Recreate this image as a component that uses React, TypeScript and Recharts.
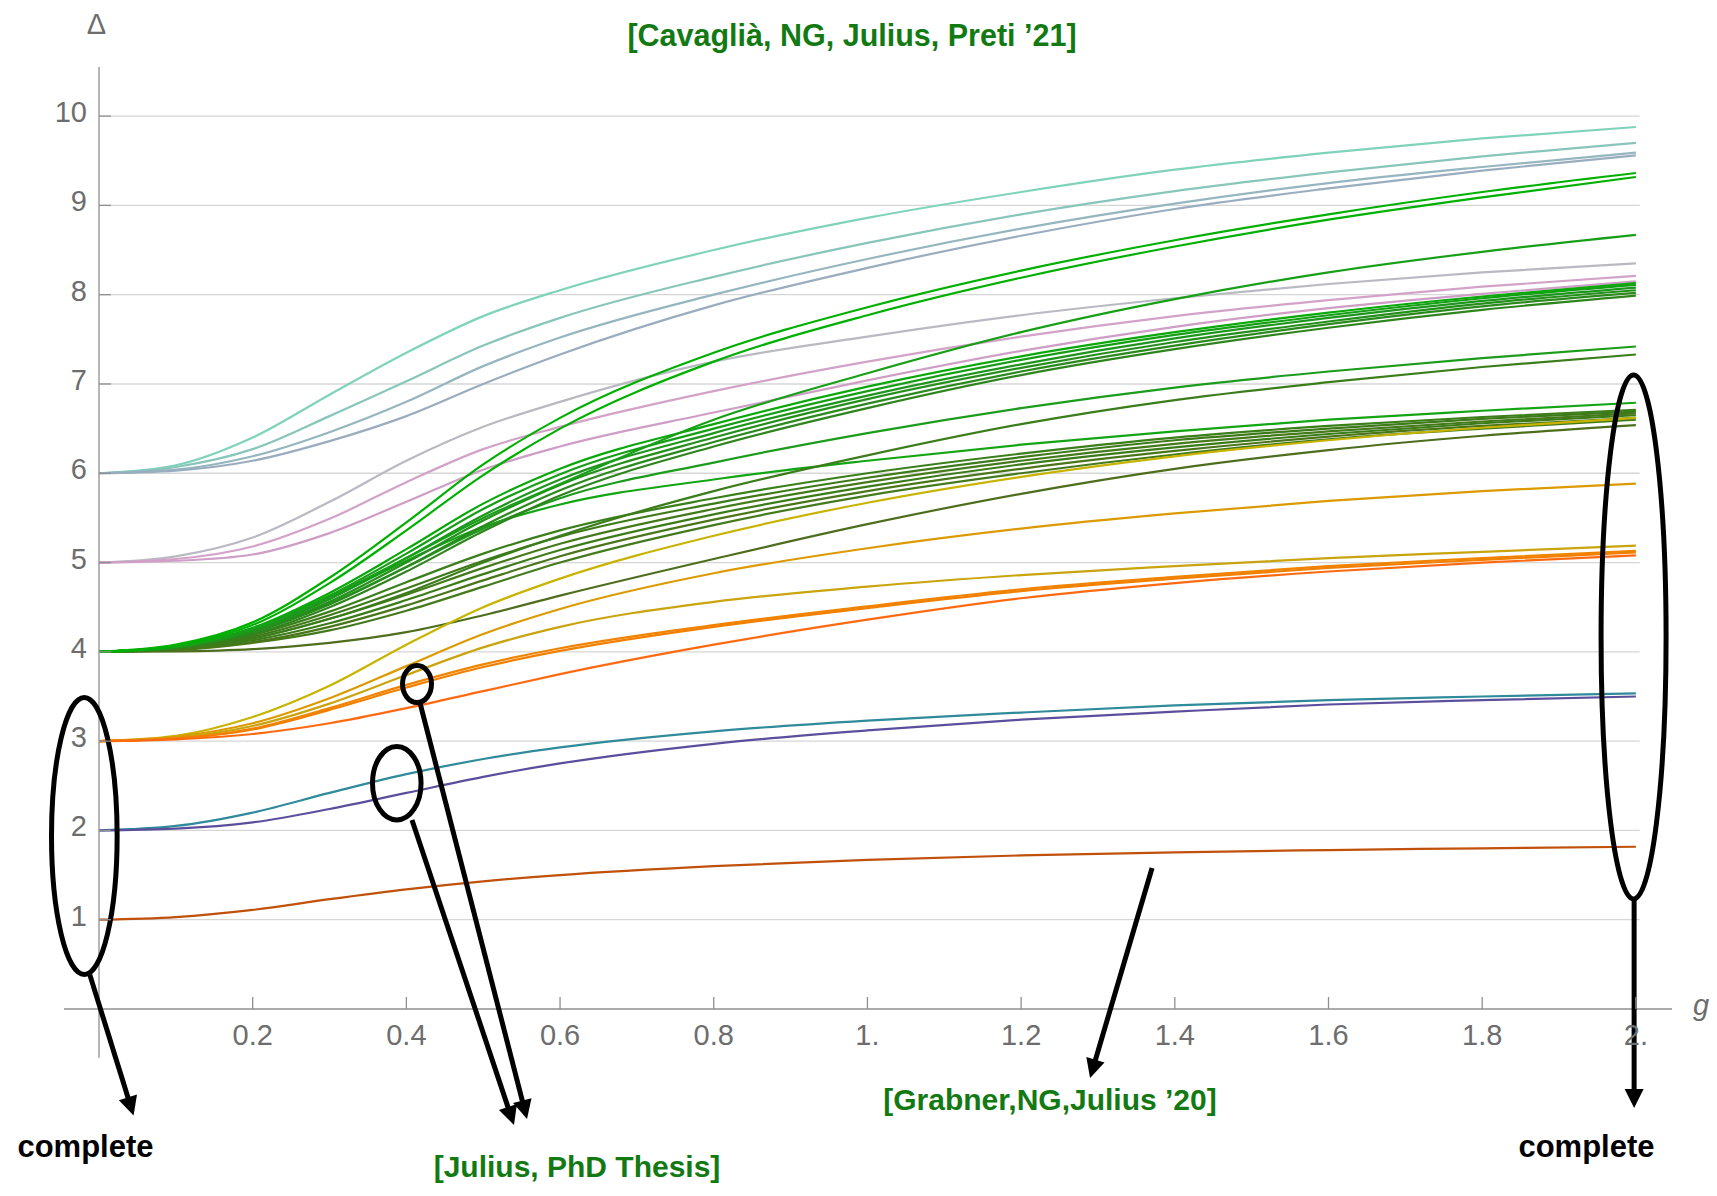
import React from 'react';
import { LineChart, Line, XAxis, YAxis, ReferenceLine, ReferenceArea } from 'recharts';

// coupling g sample points
const gValues = [0, 0.1, 0.2, 0.3, 0.4, 0.5, 0.6, 0.8, 1.0, 1.2, 1.4, 1.6, 1.8, 2.0];

// Δ(0) = 1
const state1 = [1, 1.03, 1.11, 1.23, 1.34, 1.43, 1.5, 1.6, 1.67, 1.72, 1.755, 1.78, 1.8, 1.817];
// Δ(0) = 2
const state2a = [2, 2.05, 2.2, 2.42, 2.63, 2.8, 2.93, 3.11, 3.23, 3.32, 3.4, 3.46, 3.5, 3.535];
const state2b = [2, 2.02, 2.09, 2.24, 2.42, 2.6, 2.75, 2.97, 3.12, 3.24, 3.33, 3.41, 3.46, 3.5];
// Δ(0) = 3
const state3a = [3, 3.06, 3.27, 3.62, 4.08, 4.5, 4.82, 5.3, 5.67, 5.96, 6.19, 6.37, 6.51, 6.62];
const state3b = [3, 3.05, 3.2, 3.48, 3.84, 4.2, 4.48, 4.88, 5.16, 5.38, 5.55, 5.69, 5.8, 5.885];
const state3c = [3, 3.04, 3.17, 3.42, 3.74, 4.05, 4.28, 4.56, 4.73, 4.86, 4.96, 5.05, 5.12, 5.19];
const state3d = [3, 3.03, 3.14, 3.37, 3.63, 3.86, 4.04, 4.3, 4.51, 4.7, 4.84, 4.96, 5.05, 5.13];
const state3e = [3, 3.03, 3.13, 3.35, 3.6, 3.83, 4.01, 4.28, 4.49, 4.68, 4.82, 4.94, 5.03, 5.115];
const state3f = [3, 3.02, 3.08, 3.2, 3.37, 3.56, 3.75, 4.08, 4.36, 4.6, 4.77, 4.9, 5.0, 5.08];
// Δ(0) = 4
const state4a = [4, 4.08, 4.33, 4.83, 5.45, 6.1, 6.62, 7.35, 7.86, 8.27, 8.61, 8.9, 9.15, 9.363];
const state4b = [4, 4.07, 4.3, 4.77, 5.36, 5.98, 6.5, 7.25, 7.77, 8.19, 8.54, 8.84, 9.09, 9.318];
const state4c = [4, 4.06, 4.26, 4.62, 5.05, 5.5, 5.88, 6.6, 7.12, 7.58, 7.95, 8.25, 8.48, 8.67];
const state4d = [4, 4.06, 4.27, 4.66, 5.15, 5.66, 6.05, 6.55, 6.97, 7.31, 7.58, 7.8, 7.98, 8.13];
const state4e = [4, 4.06, 4.26, 4.63, 5.1, 5.6, 5.99, 6.5, 6.92, 7.27, 7.55, 7.77, 7.96, 8.11];
const state4f = [4, 4.05, 4.24, 4.59, 5.05, 5.53, 5.93, 6.45, 6.87, 7.22, 7.51, 7.74, 7.93, 8.08];
const state4g = [4, 4.05, 4.23, 4.56, 5.0, 5.47, 5.87, 6.4, 6.83, 7.18, 7.47, 7.7, 7.9, 8.05];
const state4h = [4, 4.05, 4.22, 4.53, 4.95, 5.41, 5.81, 6.35, 6.78, 7.14, 7.43, 7.67, 7.87, 8.02];
const state4i = [4, 4.05, 4.2, 4.5, 4.9, 5.35, 5.75, 6.3, 6.73, 7.1, 7.39, 7.63, 7.83, 7.99];
const state4j = [4, 4.05, 4.22, 4.54, 4.95, 5.38, 5.72, 6.12, 6.45, 6.73, 6.96, 7.14, 7.29, 7.42];
const state4k = [4, 4.04, 4.15, 4.37, 4.66, 5.0, 5.3, 5.8, 6.2, 6.55, 6.82, 7.02, 7.19, 7.33];
const state4l = [4, 4.05, 4.24, 4.6, 5.02, 5.4, 5.65, 5.93, 6.14, 6.32, 6.47, 6.6, 6.7, 6.79];
const state4m = [4, 4.04, 4.19, 4.45, 4.78, 5.1, 5.36, 5.72, 6.0, 6.22, 6.4, 6.53, 6.63, 6.71];
const state4n = [4, 4.04, 4.17, 4.41, 4.71, 5.02, 5.29, 5.66, 5.95, 6.18, 6.37, 6.5, 6.61, 6.69];
const state4o = [4, 4.03, 4.15, 4.37, 4.64, 4.94, 5.21, 5.6, 5.9, 6.14, 6.33, 6.47, 6.58, 6.67];
const state4p = [4, 4.03, 4.13, 4.32, 4.58, 4.87, 5.14, 5.54, 5.85, 6.1, 6.29, 6.44, 6.56, 6.65];
const state4q = [4, 4.03, 4.11, 4.28, 4.52, 4.8, 5.07, 5.48, 5.8, 6.05, 6.25, 6.41, 6.53, 6.62];
const state4r = [4, 4.02, 4.1, 4.24, 4.46, 4.73, 5.0, 5.42, 5.75, 6.0, 6.21, 6.38, 6.5, 6.6];
const state4s = [4, 4.005, 4.03, 4.1, 4.22, 4.41, 4.63, 5.04, 5.43, 5.77, 6.05, 6.26, 6.42, 6.54];
// Δ(0) = 5
const state5a = [5, 5.07, 5.28, 5.68, 6.14, 6.52, 6.8, 7.25, 7.53, 7.77, 7.96, 8.12, 8.25, 8.35];
const state5b = [5, 5.04, 5.18, 5.49, 5.9, 6.27, 6.52, 6.92, 7.25, 7.53, 7.76, 7.94, 8.09, 8.21];
const state5c = [5, 5.02, 5.09, 5.33, 5.68, 6.04, 6.3, 6.68, 7.04, 7.37, 7.64, 7.85, 8.01, 8.15];
// Δ(0) = 6
const state6a = [6, 6.09, 6.4, 6.88, 7.35, 7.76, 8.05, 8.5, 8.86, 9.15, 9.4, 9.59, 9.75, 9.878];
const state6b = [6, 6.07, 6.27, 6.64, 7.03, 7.43, 7.74, 8.2, 8.58, 8.9, 9.16, 9.37, 9.55, 9.7];
const state6c = [6, 6.04, 6.19, 6.46, 6.8, 7.2, 7.52, 8.0, 8.4, 8.74, 9.02, 9.25, 9.43, 9.59];
const state6d = [6, 6.03, 6.14, 6.36, 6.64, 7.0, 7.33, 7.88, 8.3, 8.66, 8.96, 9.19, 9.39, 9.56];

const xTicks = [0.2, 0.4, 0.6, 0.8, 1.0, 1.2, 1.4, 1.6, 1.8, 2.0];
const xTickLabels = ['0.2', '0.4', '0.6', '0.8', '1.', '1.2', '1.4', '1.6', '1.8', '2.'];
const yTicks = [1, 2, 3, 4, 5, 6, 7, 8, 9, 10];
const yTickLabels = ['1', '2', '3', '4', '5', '6', '7', '8', '9', '10'];

const curves = [
  { key: 's6a', values: state6a, color: '#7fd3bb' },
  { key: 's6b', values: state6b, color: '#88c5bb' },
  { key: 's6c', values: state6c, color: '#96b6bf' },
  { key: 's6d', values: state6d, color: '#9aadbf' },
  { key: 's5a', values: state5a, color: '#b9b9c2' },
  { key: 's5b', values: state5b, color: '#d3a2c8' },
  { key: 's5c', values: state5c, color: '#cf9ec6' },
  { key: 's4s', values: state4s, color: '#4e6e1e' },
  { key: 's4r', values: state4r, color: '#457a1c' },
  { key: 's4q', values: state4q, color: '#4a7619' },
  { key: 's4p', values: state4p, color: '#3c7c18' },
  { key: 's4o', values: state4o, color: '#447a1a' },
  { key: 's4n', values: state4n, color: '#3f7a1a' },
  { key: 's4m', values: state4m, color: '#3a7f1a' },
  { key: 's4l', values: state4l, color: '#14a514' },
  { key: 's4k', values: state4k, color: '#3b7d1b' },
  { key: 's4j', values: state4j, color: '#1c9c1c' },
  { key: 's4i', values: state4i, color: '#2f851d' },
  { key: 's4h', values: state4h, color: '#2a8a1d' },
  { key: 's4g', values: state4g, color: '#258f1c' },
  { key: 's4f', values: state4f, color: '#1e961e' },
  { key: 's4e', values: state4e, color: '#159f15' },
  { key: 's4d', values: state4d, color: '#0aa80a' },
  { key: 's4c', values: state4c, color: '#17a017' },
  { key: 's4b', values: state4b, color: '#00b000' },
  { key: 's4a', values: state4a, color: '#00b000' },
  { key: 's3a', values: state3a, color: '#c8b400' },
  { key: 's3b', values: state3b, color: '#dc9a00' },
  { key: 's3c', values: state3c, color: '#c9a40c' },
  { key: 's3d', values: state3d, color: '#f08400' },
  { key: 's3e', values: state3e, color: '#f28000' },
  { key: 's3f', values: state3f, color: '#ff6a10' },
  { key: 's2a', values: state2a, color: '#2f8a9a' },
  { key: 's2b', values: state2b, color: '#5b4e9c' },
  { key: 's1', values: state1, color: '#c0500a' },
];

const data = gValues.map((g, i) => {
  const row: Record<string, number> = { g };
  curves.forEach((c) => {
    row[c.key] = c.values[i];
  });
  return row;
});

// annotation shapes in data coordinates (g, Δ)
const ellipses = [
  { x1: -0.0618, x2: 0.0236, y1: 0.386, y2: 3.488 },
  { x1: 1.9547, x2: 2.0393, y1: 1.232, y2: 7.1 },
  { x1: 0.395, x2: 0.4327, y1: 3.4326, y2: 3.847 },
  { x1: 0.3559, x2: 0.4191, y1: 2.117, y2: 2.94 },
];
const arrows = [
  { from: { x: -0.012, y: 0.385 }, to: { x: 0.045, y: -1.193 } },
  { from: { x: 0.4178, y: 3.427 }, to: { x: 0.557, y: -1.232 } },
  { from: { x: 0.4073, y: 2.117 }, to: { x: 0.54, y: -1.299 } },
  { from: { x: 1.3704, y: 1.579 }, to: { x: 1.2897, y: -0.773 } },
  { from: { x: 1.9977, y: 1.243 }, to: { x: 1.9977, y: -1.109 } },
];

const FONT = 'Liberation Sans, Arial, Helvetica, sans-serif';
const AXIS = '#8f8f8f';
const LABEL = '#6d6d6d';
const GREEN = '#137a13';

const XTick = (props: any) => {
  const { x, y, payload } = props;
  const idx = xTicks.indexOf(payload.value);
  return (
    <g>
      <line x1={x} y1={y} x2={x} y2={y - 12} stroke={AXIS} strokeWidth={1.3} />
      <text x={x} y={y + 36} textAnchor="middle" fill={LABEL} fontSize={29} fontFamily={FONT}>
        {idx >= 0 ? xTickLabels[idx] : ''}
      </text>
    </g>
  );
};

const YTick = (props: any) => {
  const { x, y, payload } = props;
  const idx = yTicks.indexOf(payload.value);
  return (
    <g>
      <line x1={x} y1={y} x2={x + 12} y2={y} stroke={AXIS} strokeWidth={1.3} />
      <text x={x - 12} y={y + 6} textAnchor="end" fill={LABEL} fontSize={29} fontFamily={FONT}>
        {idx >= 0 ? yTickLabels[idx] : ''}
      </text>
    </g>
  );
};

const EllipseShape = (p: any) => {
  const x = Number(p.x);
  const y = Number(p.y);
  const w = Math.abs(Number(p.width));
  const h = Math.abs(Number(p.height));
  return (
    <ellipse cx={x + w / 2} cy={y + h / 2} rx={w / 2} ry={h / 2} fill="none" stroke="#000" strokeWidth={5} />
  );
};

const ArrowShape = (p: any) => {
  const x1 = Number(p.x1);
  const y1 = Number(p.y1);
  const x2 = Number(p.x2);
  const y2 = Number(p.y2);
  const dx = x2 - x1;
  const dy = y2 - y1;
  const len = Math.hypot(dx, dy) || 1;
  const ux = dx / len;
  const uy = dy / len;
  const hl = 19;
  const hw = 9.5;
  const bx = x2 - ux * hl;
  const by = y2 - uy * hl;
  const px = -uy;
  const py = ux;
  return (
    <g>
      <line x1={x1} y1={y1} x2={bx + ux * 2} y2={by + uy * 2} stroke="#000" strokeWidth={5} />
      <polygon
        points={`${x2},${y2} ${bx + px * hw},${by + py * hw} ${bx - px * hw},${by - py * hw}`}
        fill="#000"
      />
    </g>
  );
};

export default function App() {
  return (
    <div style={{ position: 'absolute', left: 0, top: 0, width: 1717, height: 1196, background: '#fff' }}>
      <LineChart
        width={1717}
        height={1196}
        data={data}
        margin={{ top: 67, right: 45, bottom: 147, left: 59 }}
      >
        <XAxis
          dataKey="g"
          type="number"
          domain={[0, 2.047]}
          ticks={xTicks}
          tick={<XTick />}
          tickLine={false}
          tickSize={0}
          tickMargin={0}
          axisLine={{ stroke: AXIS, strokeWidth: 1.3 }}
          height={40}
          allowDataOverflow
        />
        <YAxis
          type="number"
          domain={[0, 10.55]}
          ticks={yTicks}
          tick={<YTick />}
          tickLine={false}
          tickSize={0}
          tickMargin={0}
          axisLine={{ stroke: AXIS, strokeWidth: 1.3 }}
          width={40}
          allowDataOverflow
        />
        {yTicks.map((t) => (
          <ReferenceLine
            key={`grid-${t}`}
            segment={[{ x: 0, y: t }, { x: 2.005, y: t }]}
            stroke="#d6d6d6"
            strokeWidth={1.3}
            ifOverflow="visible"
          />
        ))}
        <ReferenceLine
          segment={[{ x: -0.0456, y: 0 }, { x: 0, y: 0 }]}
          stroke={AXIS}
          strokeWidth={1.3}
          ifOverflow="visible"
        />
        <ReferenceLine
          segment={[{ x: 0, y: -0.545 }, { x: 0, y: 0 }]}
          stroke={AXIS}
          strokeWidth={1.3}
          ifOverflow="visible"
        />
        {curves.map((c) => (
          <Line
            key={c.key}
            dataKey={c.key}
            type="monotone"
            stroke={c.color}
            strokeWidth={2.2}
            dot={false}
            activeDot={false}
            isAnimationActive={false}
          />
        ))}
        {ellipses.map((e, i) => (
          <ReferenceArea
            key={`ell-${i}`}
            x1={e.x1}
            x2={e.x2}
            y1={e.y1}
            y2={e.y2}
            ifOverflow="visible"
            shape={EllipseShape}
            zIndex={1000}
          />
        ))}
        {arrows.map((a, i) => (
          <ReferenceLine
            key={`arr-${i}`}
            segment={[a.from, a.to]}
            ifOverflow="visible"
            shape={ArrowShape}
            zIndex={1000}
          />
        ))}
      </LineChart>
      <svg
        width={1717}
        height={1196}
        style={{ position: 'absolute', left: 0, top: 0, pointerEvents: 'none' }}
      >
        <text x={96.5} y={34} textAnchor="middle" fill={LABEL} fontSize={29} fontFamily={FONT}>
          Δ
        </text>
        <text x={1693} y={1015} fill={LABEL} fontSize={29} fontStyle="italic" fontFamily={FONT}>
          g
        </text>
        <text x={852} y={46} textAnchor="middle" fill={GREEN} fontSize={30.5} fontWeight="bold" fontFamily={FONT}>
          [Cavaglià, NG, Julius, Preti ’21]
        </text>
        <text x={1050} y={1110} textAnchor="middle" fill={GREEN} fontSize={30} fontWeight="bold" fontFamily={FONT}>
          [Grabner,NG,Julius ’20]
        </text>
        <text x={577} y={1177} textAnchor="middle" fill={GREEN} fontSize={30} fontWeight="bold" fontFamily={FONT}>
          [Julius, PhD Thesis]
        </text>
        <text x={85.5} y={1157} textAnchor="middle" fill="#000" fontSize={31} fontWeight="bold" fontFamily={FONT}>
          complete
        </text>
        <text x={1586.5} y={1157} textAnchor="middle" fill="#000" fontSize={31} fontWeight="bold" fontFamily={FONT}>
          complete
        </text>
      </svg>
    </div>
  );
}
